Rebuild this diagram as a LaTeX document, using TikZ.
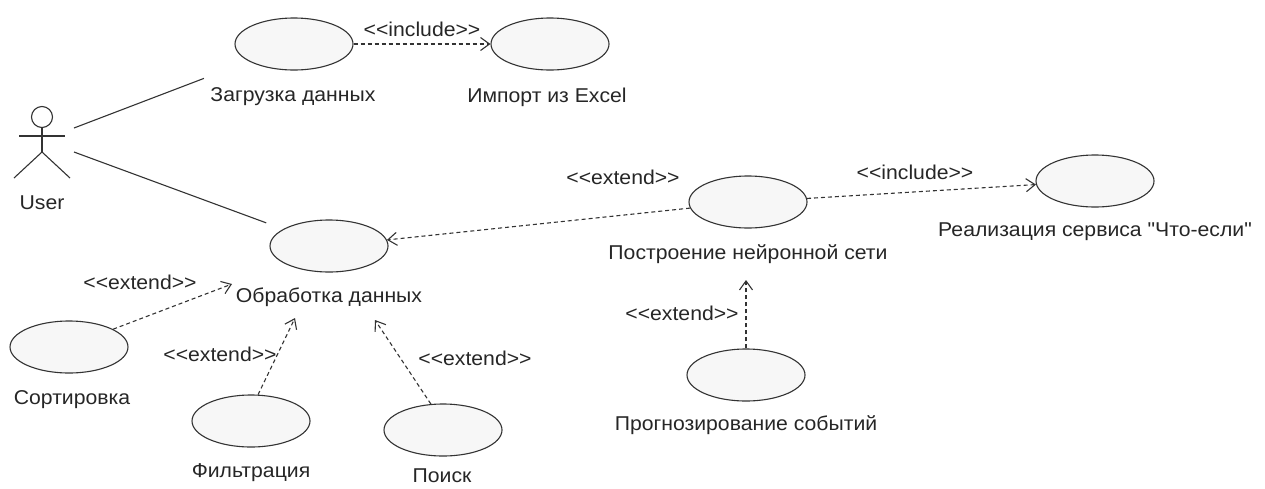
\documentclass[tikz,border=0pt]{standalone}
\usepackage{fontspec}
\newfontfamily\umlfont{Liberation Sans}[FakeStretch=1.06]
\usetikzlibrary{positioning,shapes.geometric,arrows.meta}
\tikzset{use case/.style={ellipse,draw=black!80,fill=black!3,minimum width=118pt,minimum height=52pt,inner sep=0pt},
  case text/.style={font=\umlfont\fontsize{20}{24}\selectfont,text=black!85,inner sep=1pt},
  dep/.style={draw=black!80,dash pattern=on 4pt off 3pt,-{Straight Barb[length=9pt,width=13pt]}} }

\begin{document}
\begin{tikzpicture}[x=1pt,y=-1pt,line width=1.1pt,draw=black!80]
\useasboundingbox (0,0) rectangle (1265,488);

  % use cases
  \node[use case] (load) at (294,44) {};
  \node[use case] (import) at (550,44) {};
  \node[use case] (proc) at (329,246) {};
  \node[use case] (nn) at (748,202) {};
  \node[use case] (whatif) at (1095,181) {};
  \node[use case] (sort) at (69,347) {};
  \node[use case] (filt) at (251,421) {};
  \node[use case] (search) at (443,430) {};
  \node[use case] (forecast) at (746,375) {};

  \node[case text] (loadtext) at (293,97) {Загрузка данных};
  \node[case text] (importtext) at (547,97) {Импорт из Excel};
  \node[case text] (proctext) at (329,297) {Обработка данных};
  \node[case text] (nntext) at (748,254) {Построение нейронной сети};
  \node[case text] (whatiftext) at (1095,232) {Реализация сервиса "Что-если"};
  \node[case text] (sorttext) at (72,400) {Сортировка};
  \node[case text] (filttext) at (251,473) {Фильтрация};
  \node[case text] (searchtext) at (442,476) {Поиск};
  \node[case text] (forecasttext) at (746,425) {Прогнозирование событий};

  % actor
  \node[circle,draw,fill=white,minimum size=21pt,inner sep=0pt] (head) at (42,117) {};
  \coordinate (hip) at (42,152);
  \draw (head.south) -- (hip);
  \draw (19,136) -- (65,136);
  \draw (hip) -- (14,178);
  \draw (hip) -- (70,178);
  \node[case text] (user) at (42,203) {User};
  \coordinate (u1) at (74,128);
  \coordinate (u2) at (74,152);

  \coordinate (e1) at (232,284);
  \coordinate (e2) at (295,318);
  \coordinate (e3) at (375,320);
  \coordinate (e4) at (746,280);

  \path
    (u1) edge [shorten >=48pt] (load)
    (u2) edge [shorten >=18pt] (proc)
    (load) edge [dep] node[case text,above=6pt] {<<include>>} (import)
    (nn) edge [dep] (proc)
    (nn) edge [dep] (whatif)
    (sort.22) edge [dep] (e1)
    (filt.75) edge [dep] (e2)
    (search.115) edge [dep] (e3)
    (forecast.north) edge [dep] (e4)
    ;

  % stereotypes
  \node[case text] (st1) at (623,177) {<<extend>>};
  \node[case text] (st2) at (915,172) {<<include>>};
  \node[case text] (st3) at (140,282) {<<extend>>};
  \node[case text] (st4) at (220,354) {<<extend>>};
  \node[case text] (st5) at (475,358) {<<extend>>};
  \node[case text] (st6) at (682,313) {<<extend>>};
\end{tikzpicture}
\end{document}
